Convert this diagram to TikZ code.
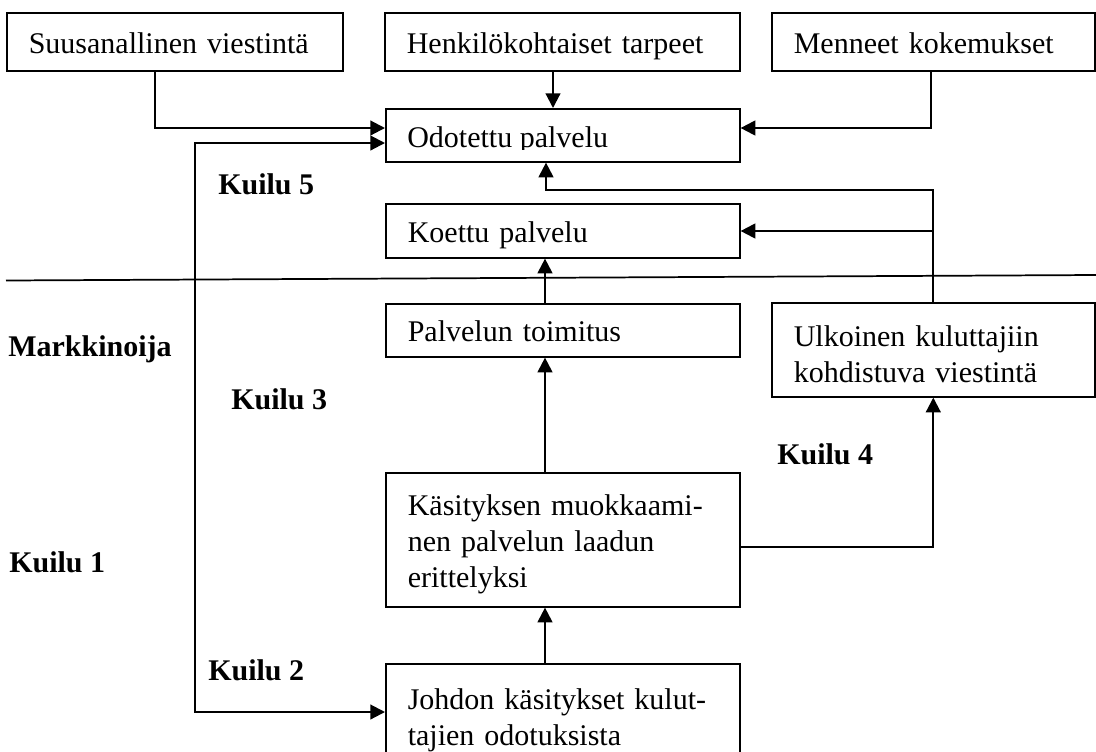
\documentclass[tikz,border=0pt]{standalone}
\usepackage{fontspec}
\setmainfont{Liberation Serif}
\usetikzlibrary{arrows.meta}

\begin{document}
\begin{tikzpicture}[
    x=0.75pt, y=-0.75pt,
    font=\fontsize{22.5pt}{27pt}\selectfont,
    >={Triangle[length=11pt,width=11pt]},
    box/.style={draw, line width=1.2pt, anchor=north west, align=left,
                inner xsep=16.5pt, inner ysep=0pt},
    oneline/.style={text height=22.5pt, text depth=5.2pt},
    multiline/.style={text height=22.5pt},
    conn/.style={line width=1.6pt},
    divider/.style={line width=1.3pt},
    gap/.style={font=\fontsize{22.5pt}{27pt}\selectfont\bfseries,
                anchor=base west, inner sep=0pt}
  ]
  \clip (0,0) rectangle (1096,751);
  \useasboundingbox (0,0) rectangle (1096,751);

  % top row: sources of expectations
  \node[box, oneline, minimum width=252pt, text width=219pt, minimum height=43.5pt]
    (suus) at (6,12) {Suusanallinen viestintä};
  \node[box, oneline, minimum width=266.25pt, text width=233.25pt, minimum height=43.5pt]
    (henk) at (384,12) {Henkilökohtaiset tarpeet};
  \node[box, oneline, minimum width=242.25pt, text width=209.25pt, minimum height=43.5pt]
    (menn) at (771,12) {Menneet kokemukset};

  % expected service, its text is cut at the lower edge of the frame
  \node[box, minimum width=265.5pt, minimum height=39.75pt] (odot) at (385,108) {};
  \begin{scope}
    \clip (385,108) rectangle (739,149);
    \node[anchor=base west, inner sep=0pt] (odottext) at (407,147) {Odotettu palvelu};
  \end{scope}

  \node[box, oneline, minimum width=265.5pt, text width=232.5pt, minimum height=40.5pt]
    (koet) at (385,203) {Koettu palvelu};

  % marketer side
  \node[box, oneline, minimum width=265.5pt, text width=232.5pt, minimum height=39.75pt]
    (toim) at (385,303) {Palvelun toimitus};
  \node[box, multiline, minimum width=242.25pt, text width=209.25pt, minimum height=70.5pt]
    (ulko) at (771,302) {Ulkoinen kuluttajiin\\kohdistuva viestintä};
  \node[box, multiline, minimum width=265.5pt, text width=232.5pt, minimum height=100.5pt]
    (kasi) at (385,472) {Käsityksen muokkaami-\\nen palvelun laadun\\erittelyksi};
  \node[box, multiline, text height=18.5pt, minimum width=265.5pt, text width=232.5pt,
        minimum height=82.5pt]
    (johd) at (385,663) {Johdon käsitykset kulut-\\tajien odotuksista};

  % boundary between customer and marketer
  \draw[divider] (6,280.5) -- (1096,275);

  % routing points
  \coordinate (sx) at (155,128);
  \coordinate (hx) at (553,0);
  \coordinate (mx) at (931,128);
  \coordinate (k5) at (195,143);
  \coordinate (k2) at (195,712);
  \coordinate (fb) at (546,190);
  \coordinate (ky) at (0,231);
  \coordinate (cx) at (545,0);
  \coordinate (ey) at (0,547);

  % connectors
  \draw[conn,->] (suus.south -| sx) |- (odot.west |- sx);
  \draw[conn,->] (henk.south -| hx) -- (odot.north -| hx);
  \draw[conn,->] (menn.south -| mx) |- (odot.east |- mx);
  \draw[conn,<->] (odot.west |- k5) -- (k5) -- (k2) -- (johd.west |- k2);
  \draw[conn,->] (ulko.north) |- (fb) -- (odot.south -| fb);
  \draw[conn,->] (ulko.north |- ky) -- (koet.east |- ky);
  \draw[conn,->] (toim.north -| cx) -- (koet.south -| cx);
  \draw[conn,->] (kasi.north -| cx) -- (toim.south -| cx);
  \draw[conn,->] (johd.north -| cx) -- (kasi.south -| cx);
  \draw[conn,->] (kasi.east |- ey) -| (ulko.south);

  % gap labels
  \node[gap] (kuilu5) at (218,194) {Kuilu 5};
  \node[gap] (markk) at (8,356) {Markkinoija};
  \node[gap] (kuilu3) at (231,409) {Kuilu 3};
  \node[gap] (kuilu4) at (777,464) {Kuilu 4};
  \node[gap] (kuilu1) at (9,572) {Kuilu 1};
  \node[gap] (kuilu2) at (208,680) {Kuilu 2};
\end{tikzpicture}
\end{document}
